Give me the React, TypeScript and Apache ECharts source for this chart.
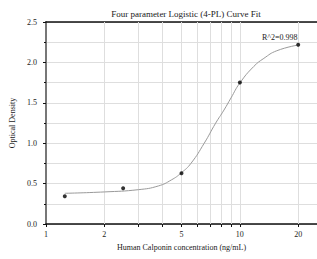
import React, { useEffect, useRef } from "react";
import * as echarts from "echarts";

const concentrations = [1.25, 2.5, 5, 10, 20];
const odValues = [0.343, 0.442, 0.628, 1.75, 2.218];

const curveX = [1.25, 2, 3, 3.8, 4.43, 5, 5.6, 6.55, 7.5, 8.28, 9, 10, 11.8, 13.3, 15.5, 20];
const curveY = [0.38, 0.397, 0.425, 0.471, 0.545, 0.635, 0.752, 1.0, 1.248, 1.41, 1.56, 1.745, 1.95, 2.05, 2.144, 2.215];

const xLabelValues = [1, 2, 5, 10, 20];
const xTickValues = [1, 2, 3, 4, 5, 6, 7, 8, 9, 10, 20];
const xGridValues = [2, 3, 4, 5, 6, 7, 8, 9, 10, 20];

const titleText = "Four parameter Logistic (4-PL) Curve Fit";
const xName = "Human Calponin concentration (ng/mL)";
const yName = "Optical Density";
const r2Text = "R^2=0.998";

const FONT = "Liberation Serif";
const TEXT = "#1a1a1a";
const GRID = "#dedede";

export default function App() {
  const ref = useRef<HTMLDivElement>(null);
  useEffect(() => {
    if (!ref.current) return;
    const chart = echarts.init(ref.current, null, { renderer: "svg" });
    chart.setOption({
      animation: false,
      backgroundColor: "#ffffff",
      title: {
        text: titleText,
        left: 181,
        textAlign: "center",
        top: 4,
        textStyle: { fontFamily: FONT, fontSize: 9, fontWeight: "normal", color: TEXT },
      },
      grid: { left: 46, top: 22, width: 274, height: 202 },
      xAxis: [
        {
          type: "log",
          logBase: 10,
          min: 1,
          max: 25,
          name: xName,
          nameLocation: "middle",
          nameGap: 19,
          nameTextStyle: { fontFamily: FONT, fontSize: 8, color: TEXT },
          axisLine: { show: true, lineStyle: { color: "#111", width: 1.5 } },
          axisTick: { show: true, length: 3, customValues: xTickValues, lineStyle: { color: "#111" } },
          axisLabel: {
            customValues: xLabelValues,
            fontFamily: FONT,
            fontSize: 8,
            color: TEXT,
            margin: 6,
            formatter: (v: number) => String(Math.round(v)),
          },
          splitLine: { show: false },
          minorTick: { show: false },
        },
        {
          type: "log",
          logBase: 10,
          min: 1,
          max: 25,
          position: "top",
          axisLine: { show: true, lineStyle: { color: "#111", width: 1.5 } },
          axisTick: { show: false },
          axisLabel: { show: false },
          splitLine: { show: false },
        },
      ],
      yAxis: {
        type: "value",
        min: 0,
        max: 2.5,
        interval: 0.5,
        name: yName,
        nameLocation: "middle",
        nameGap: 29,
        nameTextStyle: { fontFamily: FONT, fontSize: 8, color: TEXT },
        axisLine: { show: true, lineStyle: { color: "#777", width: 2 } },
        axisTick: { show: true, length: 3, lineStyle: { color: "#111" } },
        minorTick: { show: true, splitNumber: 2, length: 2, lineStyle: { color: "#111" } },
        splitLine: { show: true, lineStyle: { color: GRID, width: 1 } },
        minorSplitLine: { show: true, lineStyle: { color: GRID, width: 1 } },
        axisLabel: {
          fontFamily: FONT,
          fontSize: 8,
          color: TEXT,
          margin: 9,
          formatter: (v: number) => v.toFixed(1),
        },
      },
      graphic: [
        {
          type: "text",
          left: 262,
          top: 33,
          style: { text: r2Text, font: `8px "${FONT}"`, fill: TEXT },
        },
      ],
      series: [
        {
          type: "line",
          data: curveX.map((x, i) => [x, curveY[i]]),
          smooth: 0.5,
          showSymbol: false,
          symbol: "none",
          lineStyle: { color: "#9a9a9a", width: 1 },
          z: 3,
          markLine: {
            silent: true,
            symbol: "none",
            label: { show: false },
            lineStyle: { color: GRID, width: 1, type: "solid" },
            data: xGridValues.map((v) => ({ xAxis: v })),
            z: 1,
          },
        },
        {
          type: "scatter",
          data: concentrations.map((x, i) => [x, odValues[i]]),
          symbol: "circle",
          symbolSize: 4,
          itemStyle: { color: "#000" },
          z: 5,
        },
      ],
    });
    return () => chart.dispose();
  }, []);
  return (
    <div
      ref={ref}
      style={{ position: "absolute", left: 0, top: 0, width: 317, height: 259 }}
    />
  );
}
